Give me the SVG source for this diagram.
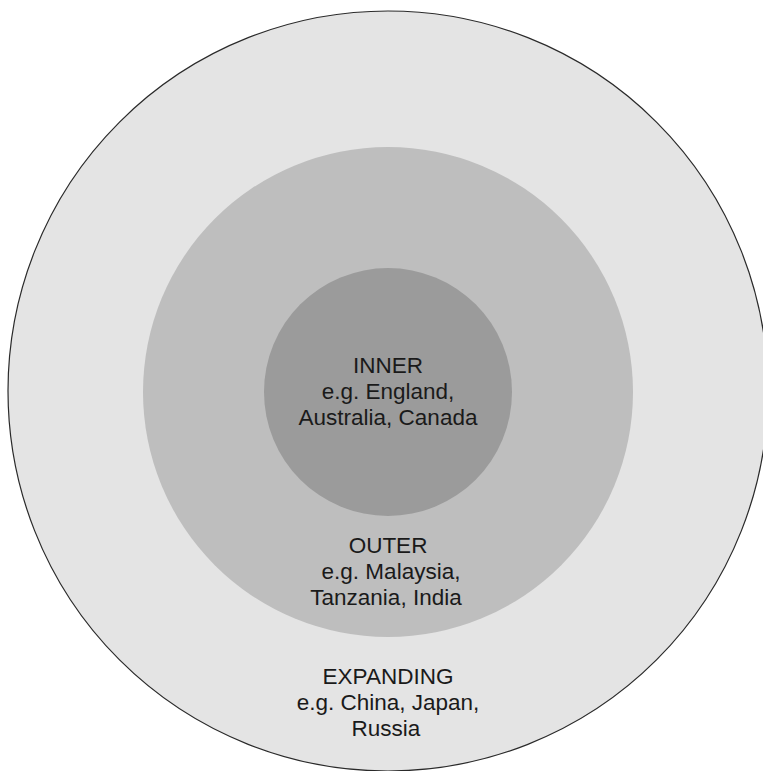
<svg xmlns="http://www.w3.org/2000/svg" width="763" height="771" viewBox="0 0 763 771">
<style>
.lbl{font-family:"Liberation Sans",Arial,sans-serif;font-size:22.5px;fill:#1a1a1a;text-anchor:middle}
</style>
<rect x="0" y="0" width="763" height="771" fill="#ffffff"/>
<g id="expanding">
<circle cx="388" cy="391" r="380" fill="#e4e4e4" stroke="#2a2a2a" stroke-width="1.2"/>
<text class="lbl" x="388" y="684">EXPANDING</text>
<text class="lbl" x="388" y="710">e.g. China, Japan,</text>
<text class="lbl" x="386" y="736">Russia</text>
</g>
<g id="outer">
<circle cx="388" cy="392" r="245" fill="#bebebe"/>
<text class="lbl" x="388" y="553">OUTER</text>
<text class="lbl" x="391" y="579">e.g. Malaysia,</text>
<text class="lbl" x="386" y="605">Tanzania, India</text>
</g>
<g id="inner">
<circle cx="388" cy="392" r="124" fill="#9b9b9b"/>
<text class="lbl" x="388" y="373">INNER</text>
<text class="lbl" x="388" y="399">e.g. England,</text>
<text class="lbl" x="388" y="425">Australia, Canada</text>
</g>
<g id="connectors"></g>
</svg>
